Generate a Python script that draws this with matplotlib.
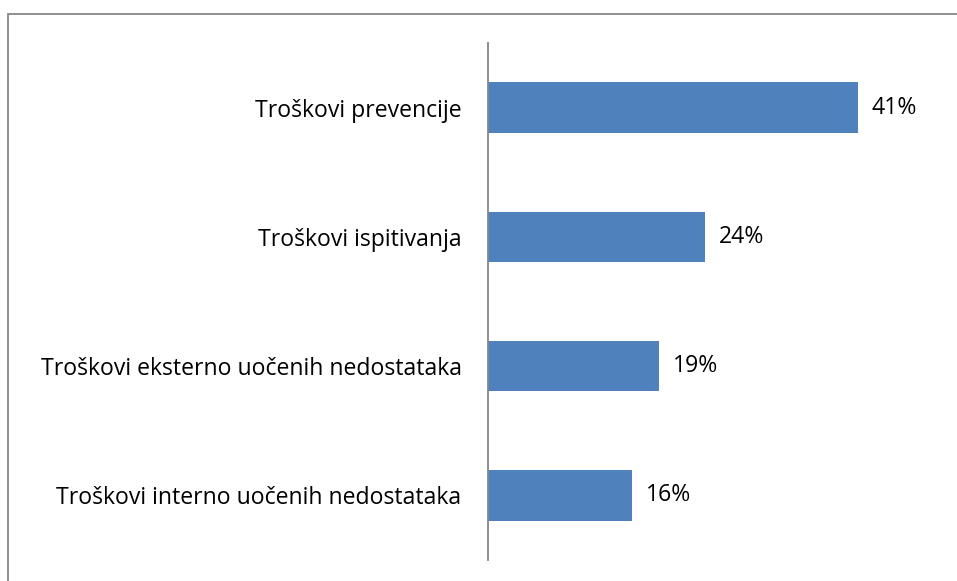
import matplotlib.pyplot as plt
from matplotlib.patches import Rectangle

categories = ['Troškovi interno uočenih nedostataka',
              'Troškovi eksterno uočenih nedostataka',
              'Troškovi ispitivanja',
              'Troškovi prevencije']
values = [16, 19, 24, 41]

plt.rcParams['font.family'] = ['Open Sans', 'DejaVu Sans']

W, H = 957, 581
fig = plt.figure(figsize=(W / 100, H / 100), dpi=100)

# outer chart frame (runs off the right and bottom edge)
fig.patches.append(Rectangle((8 / W, -0.1), 1.2, 1 - 14 / H + 0.1,
                             transform=fig.transFigure, fill=False,
                             edgecolor='#868686', linewidth=1.3))

ax = fig.add_axes([488 / W, 1 - 560 / H, (894 - 488) / W, (560 - 43) / H])
y = range(len(categories))
ax.barh(y, values, height=0.39, color='#4F81BD')
ax.set_xlim(0, 45)
ax.set_ylim(-0.5, len(categories) - 0.5)

for yi, v in zip(y, values):
    ax.text(v + 1.55, yi, f'{v}%', va='center', ha='left', fontsize=16.6)

ax.set_yticks(list(y))
ax.set_yticklabels(categories, fontsize=16.6)
ax.tick_params(axis='y', length=0, pad=19)
ax.set_xticks([])
for s in ['top', 'right', 'bottom']:
    ax.spines[s].set_visible(False)
ax.spines['left'].set_color('#868686')
ax.spines['left'].set_linewidth(1.3)

fig.savefig('out.png', dpi=100)
